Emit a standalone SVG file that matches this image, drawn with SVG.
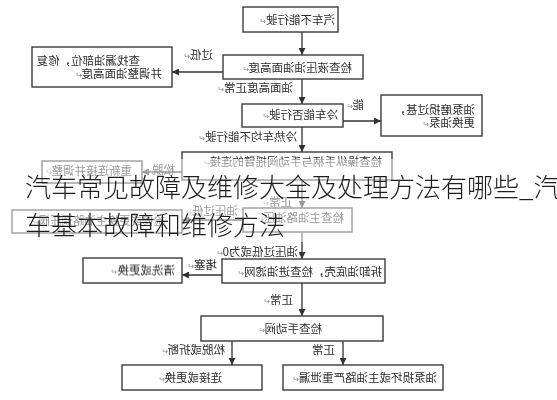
<svg xmlns="http://www.w3.org/2000/svg" width="557" height="400" viewBox="0 0 557 400">
<defs>
<marker id="ah" markerUnits="userSpaceOnUse" markerWidth="8" markerHeight="7" refX="7" refY="3.5" orient="auto">
<path d="M0,0 L7,3.5 L0,7 z" fill="#333"/>
</marker>
<filter id="soft" x="-5%" y="-5%" width="110%" height="110%"><feGaussianBlur stdDeviation="0.35"/></filter>
</defs>
<style>
.box{fill:#fff;stroke:#3a3a3a;stroke-width:1.4}
.t{font-family:"Noto Sans CJK SC","Noto Sans CJK JP",sans-serif;font-size:11.5px;fill:#2b2b2b}
.r{font-size:8px;fill:#888}
.c{stroke:#333;stroke-width:1.3;fill:none;marker-end:url(#ah)}
.title{font-family:"Noto Sans CJK SC","Noto Sans CJK JP",sans-serif;font-size:26px;font-weight:300;fill:#1e1e1e}
</style>
<rect width="557" height="400" fill="#fff"/>
<g id="flow" filter="url(#soft)">
<g id="connectors">
<line class="c" x1="302" y1="32" x2="302" y2="55"/>
<line class="c" x1="223" y1="72" x2="172" y2="72"/>
<line class="c" x1="302" y1="79" x2="302" y2="104"/>
<line class="c" x1="343" y1="121" x2="381" y2="121"/>
<line class="c" x1="302" y1="127" x2="302" y2="152"/>
<line class="c" x1="182" y1="172" x2="142" y2="172"/>
<line class="c" x1="302" y1="180" x2="302" y2="208"/>
<line class="c" x1="243" y1="220" x2="182" y2="220"/>
<line class="c" x1="302" y1="232" x2="302" y2="259"/>
<line class="c" x1="222" y1="275" x2="182" y2="275"/>
<line class="c" x1="302" y1="283" x2="302" y2="316"/>
<line class="c" x1="232" y1="341" x2="232" y2="365"/>
<line class="c" x1="343" y1="341" x2="343" y2="365"/>
</g>
<g id="labels">
<text class="t" transform="translate(213,59) scale(-1,1)">过低<tspan class="r">↵</tspan></text>
<text class="t" transform="translate(293,92) scale(-1,1)">油面高度正常<tspan class="r">↵</tspan></text>
<text class="t" transform="translate(364,109) scale(-1,1)">能<tspan class="r">↵</tspan></text>
<text class="t" transform="translate(297,141) scale(-1,1)">冷热车均不能行驶<tspan class="r">↵</tspan></text>
<text class="t" transform="translate(175,174) scale(-1,1)">松脱<tspan class="r">↵</tspan></text>
<text class="t" transform="translate(292,206) scale(-1,1)">正常<tspan class="r">↵</tspan></text>
<text class="t" transform="translate(238,215) scale(-1,1)">油压过低<tspan class="r">↵</tspan></text>
<text class="t" transform="translate(298,256) scale(-1,1)">油压过低或为0<tspan class="r">↵</tspan></text>
<text class="t" transform="translate(217,269) scale(-1,1)">堵塞<tspan class="r">↵</tspan></text>
<text class="t" transform="translate(293,304) scale(-1,1)">正常<tspan class="r">↵</tspan></text>
<text class="t" transform="translate(225,354) scale(-1,1)">松脱或折断<tspan class="r">↵</tspan></text>
<text class="t" transform="translate(335,354) scale(-1,1)">正常</text>
</g>
<g id="n1"><rect class="box" x="243" y="7" width="95" height="25"/>
<text class="t" transform="translate(335,23.5) scale(-1,1)">汽车不能行驶<tspan class="r">↵</tspan></text></g>
<g id="n2"><rect class="box" x="223" y="55" width="140" height="24"/>
<text class="t" transform="translate(352,71.5) scale(-1,1)">检查液压油油面高度<tspan class="r">↵</tspan></text></g>
<g id="n3"><rect class="box" x="32" y="47" width="140" height="40"/>
<text class="t" transform="translate(140,65) scale(-1,1)">查找漏油部位，修复</text>
<text class="t" transform="translate(162,78) scale(-1,1)">并调整油面高度<tspan class="r">↵</tspan></text></g>
<g id="n4"><rect class="box" x="242" y="104" width="101" height="23"/>
<text class="t" transform="translate(338,119) scale(-1,1)">冷车能否行驶<tspan class="r">↵</tspan></text></g>
<g id="n5"><rect class="box" x="381" y="95" width="101" height="41"/>
<text class="t" transform="translate(475,114) scale(-1,1)">油泵磨损过甚，</text>
<text class="t" transform="translate(475,127) scale(-1,1)">更换油泵<tspan class="r">↵</tspan></text></g>
<g id="n6"><rect class="box" x="182" y="152" width="210" height="28"/>
<text class="t" transform="translate(382,166) scale(-1,1)">检查操纵手柄与手动阀摇臂的连接<tspan class="r">↵</tspan></text></g>
<g id="n7"><rect class="box" x="42" y="161" width="100" height="22"/>
<text class="t" transform="translate(132,175) scale(-1,1)">重新连接并调整<tspan class="r">↵</tspan></text></g>
<g id="n8"><rect class="box" x="243" y="208" width="109" height="24"/>
<text class="t" transform="translate(344,221.5) scale(-1,1)">检查主油路油压<tspan class="r">↵</tspan></text></g>
<g id="n9"><rect class="box" x="12" y="210" width="170" height="23"/>
<text class="t" transform="translate(165,225) scale(-1,1)">检修或更换主油路调压阀<tspan class="r">↵</tspan></text></g>
<g id="n10"><rect class="box" x="222" y="259" width="163" height="24"/>
<text class="t" transform="translate(382,276) scale(-1,1)">拆卸油底壳，检查进油滤网<tspan class="r">↵</tspan></text></g>
<g id="n11"><rect class="box" x="83" y="258" width="99" height="25"/>
<text class="t" transform="translate(175,274.5) scale(-1,1)">清洗或更换<tspan class="r">↵</tspan></text></g>
<g id="n12"><rect class="box" x="201" y="316" width="182" height="25"/>
<text class="t" transform="translate(322,333) scale(-1,1)">检查手动阀<tspan class="r">↵</tspan></text></g>
<g id="n13"><rect class="box" x="122" y="365" width="140" height="25"/>
<text class="t" transform="translate(222,382) scale(-1,1)">连接或更换<tspan class="r">↵</tspan></text></g>
<g id="n14"><rect class="box" x="283" y="365" width="160" height="25"/>
<text class="t" transform="translate(437,382) scale(-1,1)">油泵损坏或主油路严重泄漏<tspan class="r">↵</tspan></text></g>
</g>
<rect x="0" y="159" width="557" height="83" fill="#fff" opacity="0.5"/>
<g id="title">
<text class="title" x="25" y="197">汽车常见故障及维修大全及处理方法有哪些_汽</text>
<text class="title" x="25" y="235">车基本故障和维修方法</text>
</g>
</svg>
